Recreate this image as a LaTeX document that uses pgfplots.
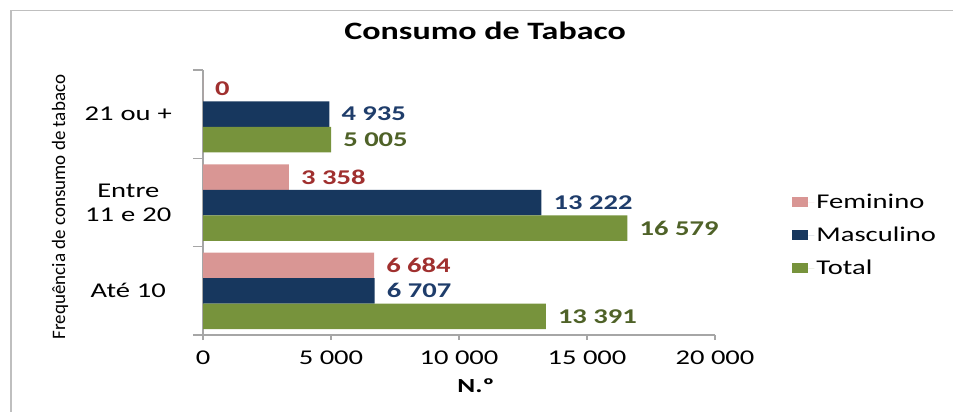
\documentclass[border=0pt]{standalone}
\usepackage{fontspec}
\setmainfont{Carlito}[FakeStretch=1.36]
\newfontfamily\plainfont{Carlito}
\usepackage{pgfplots}
\pgfplotsset{compat=1.18}

\definecolor{fem}{HTML}{D99694}
\definecolor{masc}{HTML}{17375E}
\definecolor{tot}{HTML}{77933C}
\definecolor{femtxt}{HTML}{A0302F}
\definecolor{masctxt}{HTML}{1F3D6B}
\definecolor{tottxt}{HTML}{4F6228}
\definecolor{axisgray}{HTML}{A6A6A6}
\definecolor{framegray}{HTML}{BFBFBF}

\begin{document}
\begin{tikzpicture}
\useasboundingbox (0pt,0pt) rectangle (953pt,-412pt);
% chart frame (cut off at right and bottom)
\draw[framegray, line width=1.5pt] (10.75pt,-412pt) -- (10.75pt,-10.75pt) -- (953pt,-10.75pt);
\begin{axis}[
    at={(203pt,-335pt)}, anchor=south west,
    scale only axis, width=512pt, height=265pt,
    xbar, bar width=25.5pt,
    xmin=0, xmax=20000, ymin=-0.5, ymax=2.5,
    enlargelimits=false,
    axis x line*=bottom, axis y line*=left,
    axis line style={axisgray, line width=1.2pt, -},
    xtick={0,5000,10000,15000,20000},
    scaled x ticks=false,
    ytick={0,1,2},
    yticklabels={Até 10,{Entre\\11 e 20},21 ou +},
    minor ytick={-0.5,0.5,1.5,2.5},
    tick align=outside,
    major tick length=5pt, minor tick length=10pt,
    major y tick style={draw=none},
    tick style={axisgray, line width=1.2pt},
    ticklabel style={font=\fontsize{21}{24}\selectfont, text=black},
    xticklabel style={yshift=-7pt},
    yticklabel style={align=center, text width=95pt, inner sep=0pt, anchor=east, xshift=-22pt},
    /pgf/number format/assume math mode=true,
    /pgf/number format/1000 sep={\ },
    title={Consumo de Tabaco},
    title style={font=\bfseries\fontsize{25}{30}\selectfont, at={(rel axis cs:0.551,1.125)}, anchor=center},
    xlabel={N.º},
    xlabel style={font=\bfseries\fontsize{20}{24}\selectfont, at={(rel axis cs:0.533,-0.192)}, anchor=center},
    ylabel={Frequência de consumo de tabaco},
    ylabel style={font=\plainfont\fontsize{19}{22}\selectfont, at={(rel axis cs:-0.279,0.483)}, anchor=center},
    nodes near coords, point meta=x,
    nodes near coords style={anchor=west, font=\bfseries\fontsize{21}{24}\selectfont, inner sep=2pt, xshift=10pt},
    legend style={draw=none, fill=none, font=\fontsize{21}{24}\selectfont,
        at={(rel axis cs:1.145,0.377)}, anchor=west, row sep=13pt,
        nodes={inner sep=2pt}},
    legend cell align=left,
    legend image code/.code={\draw[#1, draw=none] (0pt,-5pt) rectangle (16pt,5pt);
        \path (16pt,0pt) -- (22pt,0pt);},
]
% Feminino
\addplot[fill=fem, draw=none, bar shift=25.5pt,
    every node near coord/.append style={text=femtxt}]
    coordinates {(6684,0) (3358,1) (0,2)};
% Masculino
\addplot[fill=masc, draw=none, bar shift=0pt,
    every node near coord/.append style={text=masctxt}]
    coordinates {(6707,0) (13222,1) (4935,2)};
% Total
\addplot[fill=tot, draw=none, bar shift=-25.5pt,
    every node near coord/.append style={text=tottxt}]
    coordinates {(13391,0) (16579,1) (5005,2)};
\legend{Feminino, Masculino, Total}
\end{axis}
\end{tikzpicture}
\end{document}
